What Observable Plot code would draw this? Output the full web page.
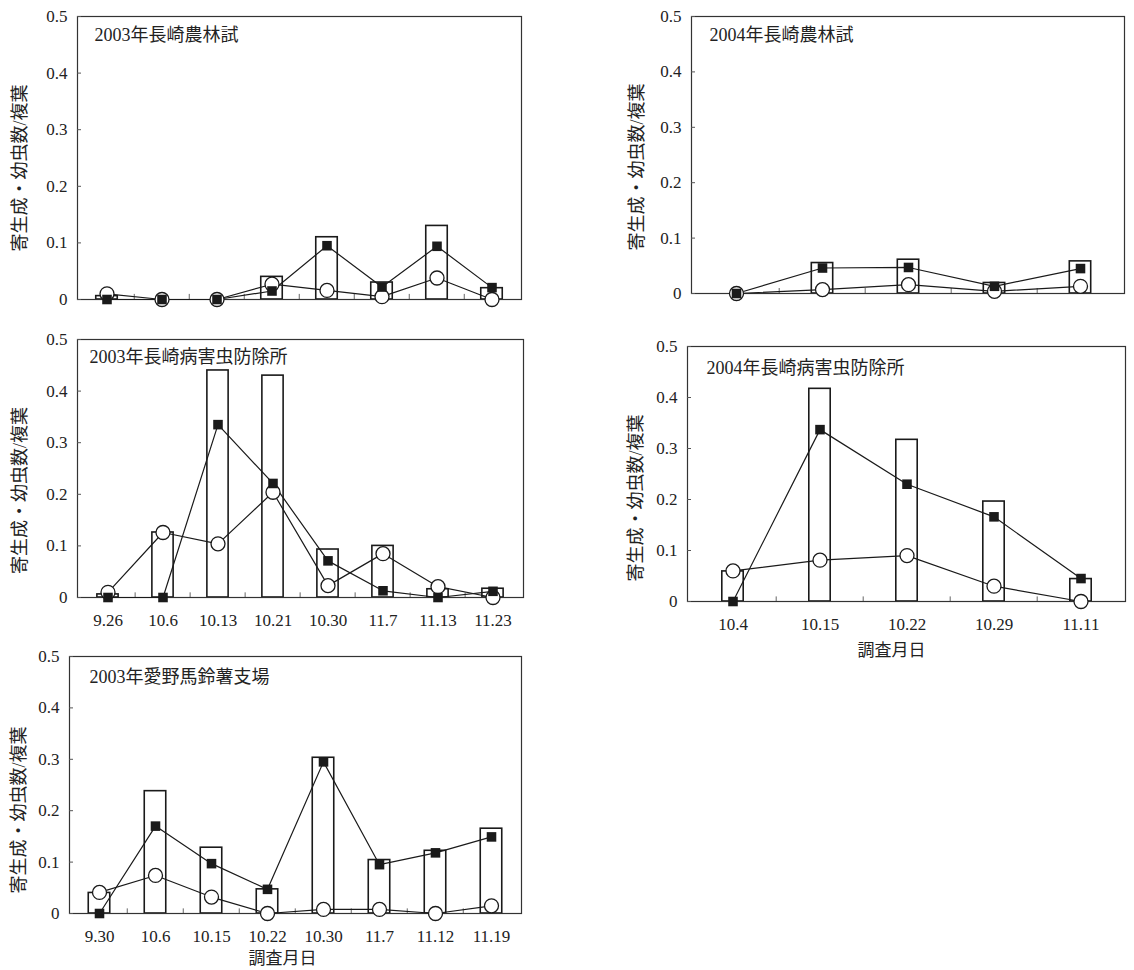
<!DOCTYPE html>
<html>
<head>
<meta charset="utf-8">
<script src="https://cdn.jsdelivr.net/npm/d3@7"></script>
<script src="https://cdn.jsdelivr.net/npm/@observablehq/plot@0.6"></script>
<style>
  html, body { margin: 0; padding: 0; background: #fff; }
  #page { position: relative; width: 1134px; height: 970px; background: #fff; overflow: hidden; }
  #page svg { position: absolute; }
  #page svg, #page svg text { font-family: "Liberation Serif", "Times New Roman", "DejaVu Serif", "Noto Sans CJK JP", serif !important; }
</style>
</head>
<body>
<div id="page"></div>
<script>
// ---------- data ----------
const yLabel = "寄生成・幼虫数/複葉";
const xLabel = "調査月日";
const yTicks = [0, 0.1, 0.2, 0.3, 0.4, 0.5];

// Panel 1: 2003年長崎農林試 (dates not labelled in the figure)
const p1Title = "2003年長崎農林試";
const p1Dates = ["d1", "d2", "d3", "d4", "d5", "d6", "d7", "d8"];
const p1Bars = [0.006, 0, 0, 0.04, 0.11, 0.03, 0.13, 0.02];
const p1Squares = [0, 0, 0, 0.015, 0.095, 0.022, 0.094, 0.021];
const p1Circles = [0.01, 0, 0, 0.027, 0.016, 0.005, 0.038, 0];

// Panel 2: 2004年長崎農林試 (dates not labelled in the figure)
const p2Title = "2004年長崎農林試";
const p2Dates = ["d1", "d2", "d3", "d4", "d5"];
const p2Bars = [0, 0.055, 0.061, 0.019, 0.058];
const p2Squares = [0, 0.046, 0.047, 0.013, 0.045];
const p2Circles = [0, 0.007, 0.016, 0.004, 0.013];

// Panel 3: 2003年長崎病害虫防除所
const p3Title = "2003年長崎病害虫防除所";
const p3Dates = ["9.26", "10.6", "10.13", "10.21", "10.30", "11.7", "11.13", "11.23"];
const p3Bars = [0.006, 0.126, 0.44, 0.43, 0.093, 0.1, 0.016, 0.017];
const p3Squares = [0, 0, 0.335, 0.221, 0.071, 0.013, 0, 0.012];
const p3Circles = [0.01, 0.126, 0.104, 0.204, 0.023, 0.085, 0.021, 0];

// Panel 4: 2004年長崎病害虫防除所
const p4Title = "2004年長崎病害虫防除所";
const p4Dates = ["10.4", "10.15", "10.22", "10.29", "11.11"];
const p4Bars = [0.059, 0.417, 0.317, 0.196, 0.044];
const p4Squares = [0, 0.337, 0.23, 0.166, 0.045];
const p4Circles = [0.06, 0.081, 0.09, 0.03, 0];

// Panel 5: 2003年愛野馬鈴薯支場
const p5Title = "2003年愛野馬鈴薯支場";
const p5Dates = ["9.30", "10.6", "10.15", "10.22", "10.30", "11.7", "11.12", "11.19"];
const p5Bars = [0.04, 0.238, 0.128, 0.047, 0.303, 0.104, 0.122, 0.165];
const p5Squares = [0, 0.17, 0.097, 0.047, 0.295, 0.095, 0.118, 0.149];
const p5Circles = [0.041, 0.074, 0.032, 0, 0.008, 0.008, 0, 0.015];

// ---------- drawing ----------
const FONT = "Liberation Serif, Times New Roman, DejaVu Serif, Noto Sans CJK JP, serif";
const INK = "#1a1a1a";

function panel(cfg) {
  const {title, dates, bars, squares, circles, left, top, width, height,
         ml, mr, mt, mb, showX, showXLabel, yLabDx, yLabDy, titleDx, titleDy,
         xLabDx, xLabDy} = cfg;
  const rows = dates.map((d, i) => ({date: d, bar: bars[i], sq: squares[i], ci: circles[i]}));
  const band = (width - ml - mr) / dates.length;
  const ins = (band - 22) / 2;
  const marks = [
    // small inward ticks on the bottom axis, at the boundaries between dates
    Plot.ruleX(dates.slice(1), {x: d => d, y1: 0, y2: 0.009, dx: -band / 2,
      stroke: "#666", strokeWidth: 1}),
    Plot.barY(rows.filter(r => r.bar > 0), {
      x: "date", y: "bar", fill: "white", stroke: INK, strokeWidth: 1.6,
      insetLeft: ins, insetRight: ins
    }),
    Plot.frame({stroke: "#333", strokeWidth: 1.2}),
    Plot.axisY({ticks: yTicks, tickSize: -4, tickPadding: 14, stroke: "#555",
      tickFormat: d => d === 0 ? "0" : d.toFixed(1), fontSize: 17, fill: "#222",
      fontFamily: FONT}),
    Plot.line(rows, {x: "date", y: "ci", stroke: INK, strokeWidth: 1.2}),
    Plot.line(rows, {x: "date", y: "sq", stroke: INK, strokeWidth: 1.2}),
    Plot.dot(rows, {x: "date", y: "ci", r: 7, fill: "white", stroke: INK, strokeWidth: 1.3}),
    Plot.dot(rows, {x: "date", y: "sq", symbol: "square", r: 5.4, fill: INK, stroke: "none"}),
    Plot.text([title], {frameAnchor: "top-left", text: d => d, textAnchor: "start",
      lineAnchor: "middle", dx: titleDx, dy: titleDy, fontSize: 18, fill: "#222",
      fontFamily: FONT}),
    Plot.text([yLabel], {frameAnchor: "left", text: d => d, rotate: -90,
      textAnchor: "middle", lineAnchor: "middle",
      dx: yLabDx, dy: yLabDy, fontSize: 18, fill: "#222", fontFamily: FONT})
  ];
  if (showX) {
    marks.push(Plot.axisX({tickSize: 0, tickPadding: 16, fontSize: 17, fill: "#222",
      label: null, fontFamily: FONT}));
  }
  if (showXLabel) {
    marks.push(Plot.text([xLabel], {frameAnchor: "bottom", text: d => d,
      dx: xLabDx, dy: xLabDy, fontSize: 17, fill: "#222", lineAnchor: "middle",
      fontFamily: FONT}));
  }
  const svg = Plot.plot({
    width, height,
    marginLeft: ml, marginRight: mr, marginTop: mt, marginBottom: mb,
    style: {fontSize: "17px", background: "transparent", overflow: "visible"},
    x: {type: "band", domain: dates, padding: 0, axis: null},
    y: {domain: [0, 0.5], axis: null},
    marks
  });
  svg.style.left = left + "px";
  svg.style.top = top + "px";
  document.getElementById("page").appendChild(svg);
}

panel({title: p1Title, dates: p1Dates, bars: p1Bars, squares: p1Squares, circles: p1Circles,
  left: 0, top: 0, width: 540, height: 320, ml: 77, mr: 19, mt: 16, mb: 21,
  showX: false, showXLabel: false, yLabDx: -57, yLabDy: 10, titleDx: 17, titleDy: 19});

panel({title: p2Title, dates: p2Dates, bars: p2Bars, squares: p2Squares, circles: p2Circles,
  left: 600, top: 0, width: 534, height: 310, ml: 91, mr: 10, mt: 16, mb: 17,
  showX: false, showXLabel: false, yLabDx: -54, yLabDy: 12, titleDx: 18, titleDy: 19});

panel({title: p3Title, dates: p3Dates, bars: p3Bars, squares: p3Squares, circles: p3Circles,
  left: 0, top: 320, width: 540, height: 330, ml: 77, mr: 17, mt: 19, mb: 53,
  showX: true, showXLabel: false, yLabDx: -57, yLabDy: 22, titleDx: 12, titleDy: 18});

panel({title: p4Title, dates: p4Dates, bars: p4Bars, squares: p4Squares, circles: p4Circles,
  left: 600, top: 320, width: 534, height: 350, ml: 87, mr: 9, mt: 26, mb: 69,
  showX: true, showXLabel: true, yLabDx: -51, yLabDy: 24, titleDx: 19, titleDy: 22,
  xLabDx: -15, xLabDy: 49});

panel({title: p5Title, dates: p5Dates, bars: p5Bars, squares: p5Squares, circles: p5Circles,
  left: 0, top: 640, width: 540, height: 330, ml: 69, mr: 19, mt: 16, mb: 57,
  showX: true, showXLabel: true, yLabDx: -50, yLabDy: 25, titleDx: 20, titleDy: 21,
  xLabDx: -13, xLabDy: 45});
</script>
</body>
</html>
